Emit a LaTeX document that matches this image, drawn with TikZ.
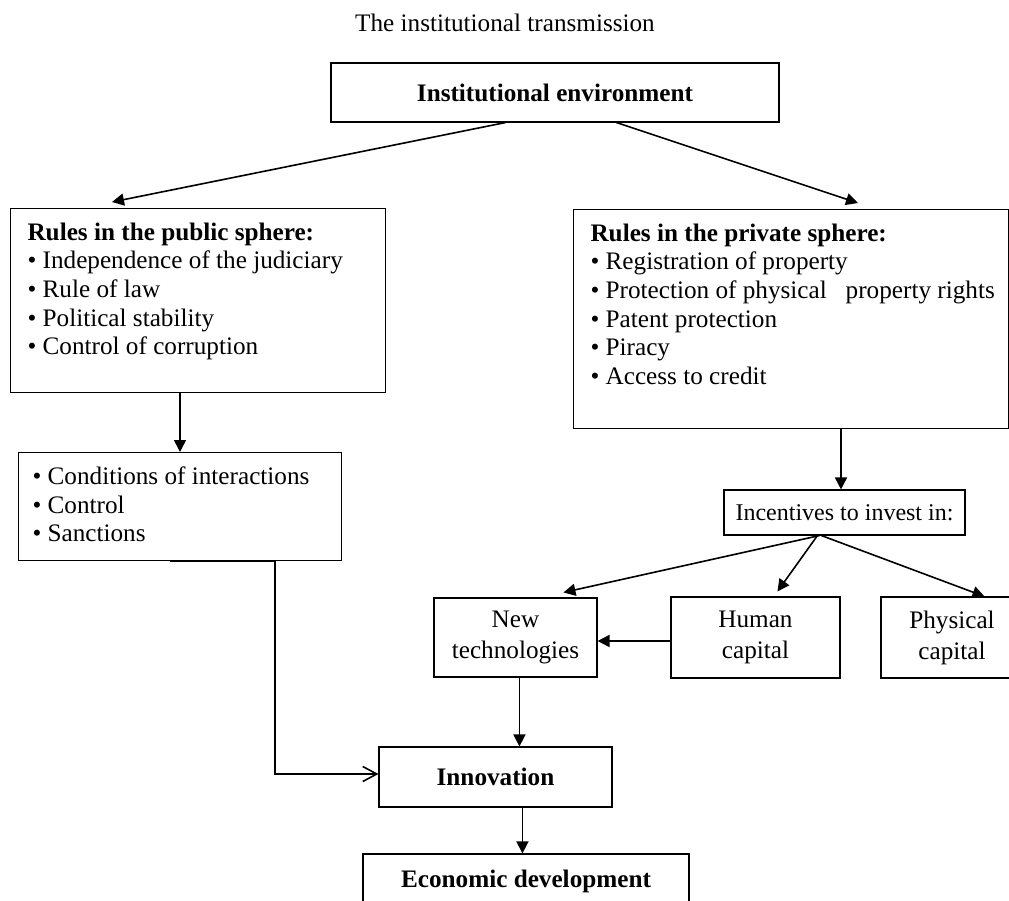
\documentclass[tikz,border=0pt]{standalone}
\usepackage{fontspec}
\setmainfont{Liberation Serif}
\usetikzlibrary{arrows.meta,calc}
\newcommand\tbx[4]{\parbox[c][#2][t]{#1}{\vspace*{7pt}\raggedright\leftskip=#3\relax #4}}
\tikzset{
  every node/.style={font=\fontsize{12.6pt}{14.35pt}\selectfont},
  hd/.style={font=\fontsize{12.6pt}{14.35pt}\selectfont\bfseries},
  box/.style={draw, line width=0.55pt, inner sep=0pt, align=center},
  tbox/.style={draw, line width=0.55pt, inner sep=0pt, anchor=north west},
  two/.style={font=\fontsize{12.6pt}{15.5pt}\selectfont},
  conn/.style={line width=0.8pt, -{Triangle[length=6pt,width=6pt]}},
  openconn/.style={line width=0.8pt, -{Straight Barb[length=7pt,width=7.5pt]}},
}
\begin{document}
\begin{tikzpicture}[x=0.5pt,y=-0.5pt]
\useasboundingbox (0,0) rectangle (1009,901);
\clip (0,0) rectangle (1009,901);
\node (title) at (505,23) {The institutional transmission};
\node[box, hd, minimum width=224pt, minimum height=29.5pt] (env) at (555,92.5) {Institutional environment};
\node[tbox] (pub) at (10,208) {\tbx{187.5pt}{92pt}{8.5pt}{\textbf{Rules in the public sphere:}\\
  • Independence of the judiciary\\
  • Rule of law\\
  • Political stability\\
  • Control of corruption}};
\node[tbox] (priv) at (573,209) {\tbx{217.5pt}{109.5pt}{8.5pt}{\textbf{Rules in the private sphere:}\\
  • Registration of property\\
  • Protection of physical\ \ \ property rights\\
  • Patent protection\\
  • Piracy\\
  • Access to credit}};
\node[tbox] (cond) at (18,452) {\tbx{161.5pt}{54pt}{7pt}{• Conditions of interactions\\
  • Control\\
  • Sanctions}};
\node[box, font=\fontsize{12pt}{14pt}\selectfont, minimum width=120.5pt, minimum height=22.5pt] (inc) at (844.5,512.5) {Incentives to invest in:};
\node[box, two, minimum width=81.5pt, minimum height=39.5pt] (newt) at (515.5,637.5) {New\\technologies};
\node[box, two, minimum width=84.5pt, minimum height=40.5pt] (hum) at (755.5,637.5) {Human\\capital};
\node[box, two, minimum width=71pt, minimum height=40.5pt] (phys) at (952,637.5) {Physical\\capital};
\node[box, hd, minimum width=116.5pt, minimum height=30pt] (inn) at (495.5,777) {Innovation};
\node[box, hd, minimum width=163pt, minimum height=27pt] (econ) at (526,881) {Economic development};
% connectors
\draw[conn] ([xshift=87.5pt]env.south west) -- ([xshift=51pt,yshift=3pt]pub.north west);
\draw[conn] ([xshift=143pt]env.south west) -- ([xshift=142.5pt,yshift=3pt]priv.north west);
\draw[conn] ([xshift=85pt]pub.south west) -- ([xshift=85pt]pub.south west |- cond.north);
\draw[openconn] ([xshift=76pt]cond.south west) -- ([xshift=128.5pt]cond.south west) |- ([yshift=1.5pt]inn.west);
\draw[conn] ([xshift=134pt]priv.south west) -- ([xshift=134pt]priv.south west |- inc.north);
\draw[conn] ([xshift=48pt]inc.south west) -- ([xshift=65pt,yshift=2.5pt]newt.north west);
\draw[conn] ([xshift=47pt]inc.south west) -- ([xshift=53.5pt,yshift=2.5pt]hum.north west);
\draw[conn] ([xshift=49pt]inc.south west) -- ([xshift=52pt]phys.north west);
\draw[conn] ([yshift=-1.75pt]hum.west) -- ([yshift=-1.75pt]newt.east);
\draw[conn] ([xshift=43pt]newt.south west) -- ([xshift=43pt]newt.south west |- inn.north);
\draw[conn] ([xshift=72pt]inn.south west) -- ([xshift=72pt]inn.south west |- econ.north);
\end{tikzpicture}
\end{document}
